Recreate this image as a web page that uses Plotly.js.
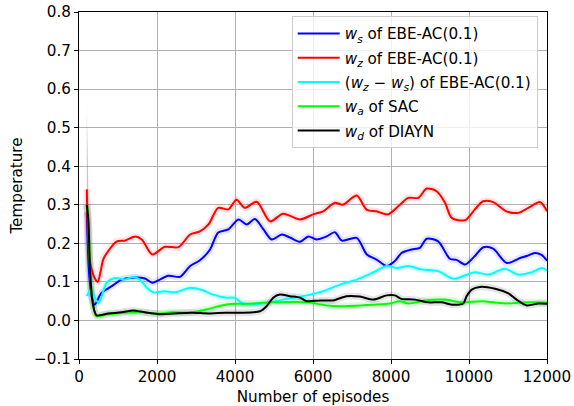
<!DOCTYPE html>
<html>
<head>
<meta charset="utf-8">
<script src="https://cdn.plot.ly/plotly-3.0.1.min.js"></script>
<style>html,body{margin:0;padding:0;background:#fff;}#chart{width:574px;height:406px;}</style>
</head>
<body>
<div id="chart"></div>
<script>
// ---- data ----
const xTicks = [0, 2000, 4000, 6000, 8000, 10000, 12000];
const yTicks = [-0.1, 0.0, 0.1, 0.2, 0.3, 0.4, 0.5, 0.6, 0.7, 0.8];

const blueX = [200, 260, 330, 400, 580, 840, 1090, 1350, 1690, 1880, 2290, 2590, 2850, 3100, 3360, 3570, 3830, 4090, 4300, 4510, 4730, 4940, 5200, 5410, 5670, 5880, 6090, 6350, 6560, 6740, 7120, 7380, 7630, 7890, 8100, 8270, 8530, 8740, 8915, 9210, 9510, 9680, 9900, 10150, 10370, 10620, 10970, 11310, 11480, 11690, 11860, 12000];
const blueY = [0.28, 0.12, 0.06, 0.041, 0.072, 0.089, 0.106, 0.111, 0.109, 0.098, 0.116, 0.113, 0.141, 0.156, 0.184, 0.228, 0.236, 0.262, 0.249, 0.263, 0.236, 0.21, 0.223, 0.215, 0.204, 0.218, 0.21, 0.218, 0.229, 0.207, 0.214, 0.171, 0.158, 0.141, 0.154, 0.175, 0.184, 0.188, 0.212, 0.205, 0.16, 0.157, 0.145, 0.167, 0.19, 0.186, 0.149, 0.162, 0.167, 0.175, 0.17, 0.155];

const redX = [200, 230, 270, 330, 400, 480, 560, 620, 750, 970, 1180, 1440, 1610, 1880, 2200, 2550, 2850, 3100, 3320, 3570, 3830, 4040, 4250, 4556, 4900, 5230, 5670, 6000, 6260, 6560, 6770, 7120, 7380, 7630, 7920, 8230, 8440, 8700, 8915, 9170, 9385, 9556, 9897, 10150, 10360, 10620, 10960, 11260, 11520, 11820, 12000];
const redY = [0.34, 0.22, 0.16, 0.13, 0.11, 0.10, 0.13, 0.158, 0.18, 0.205, 0.207, 0.218, 0.21, 0.171, 0.191, 0.19, 0.223, 0.231, 0.249, 0.292, 0.288, 0.313, 0.292, 0.308, 0.257, 0.277, 0.262, 0.275, 0.283, 0.305, 0.30, 0.324, 0.287, 0.283, 0.275, 0.30, 0.318, 0.318, 0.342, 0.335, 0.305, 0.266, 0.26, 0.288, 0.309, 0.307, 0.283, 0.279, 0.292, 0.307, 0.283];

const cyanX = [200, 300, 500, 710, 920, 1180, 1390, 1560, 1740, 1900, 2200, 2460, 2850, 3150, 3440, 3790, 4000, 4170, 4470, 4810, 5240, 5840, 6260, 6690, 7120, 7550, 7890, 8150, 8440, 8790, 9210, 9600, 9900, 10150, 10500, 10920, 11260, 11610, 11860, 12000];
const cyanY = [0.063, 0.078, 0.045, 0.098, 0.11, 0.106, 0.113, 0.106, 0.085, 0.073, 0.076, 0.073, 0.085, 0.079, 0.067, 0.059, 0.059, 0.046, 0.041, 0.046, 0.054, 0.065, 0.076, 0.093, 0.106, 0.125, 0.141, 0.136, 0.141, 0.132, 0.128, 0.108, 0.117, 0.125, 0.119, 0.134, 0.119, 0.125, 0.136, 0.13];

const greenX = [200, 240, 280, 340, 410, 450, 750, 1180, 1610, 2030, 2380, 2890, 3320, 3660, 4000, 4260, 4980, 5840, 6350, 6690, 7550, 7970, 8230, 8440, 8950, 9385, 9810, 10320, 10920, 11520, 12000];
const greenY = [0.30, 0.26, 0.14, 0.054, 0.018, 0.011, 0.016, 0.02, 0.021, 0.018, 0.021, 0.021, 0.03, 0.039, 0.043, 0.043, 0.047, 0.047, 0.039, 0.037, 0.041, 0.044, 0.05, 0.044, 0.053, 0.054, 0.047, 0.05, 0.044, 0.047, 0.046];

const blackX = [200, 240, 280, 340, 410, 450, 750, 1090, 1390, 1690, 2120, 2460, 2890, 3320, 3750, 4130, 4640, 4810, 4980, 5150, 5410, 5670, 5840, 6180, 6520, 6860, 7200, 7550, 7890, 8100, 8270, 8620, 8950, 9300, 9560, 9850, 9940, 10070, 10280, 10670, 11010, 11220, 11480, 11780, 12000];
const blackY = [0.30, 0.26, 0.14, 0.054, 0.02, 0.013, 0.018, 0.021, 0.026, 0.021, 0.016, 0.018, 0.02, 0.018, 0.02, 0.02, 0.024, 0.037, 0.059, 0.067, 0.063, 0.059, 0.05, 0.052, 0.052, 0.063, 0.062, 0.054, 0.065, 0.065, 0.056, 0.054, 0.047, 0.047, 0.041, 0.044, 0.063, 0.08, 0.087, 0.082, 0.07, 0.054, 0.039, 0.044, 0.043];

// initial spread (shaded band) at the first episodes
const spikeX = [200, 225, 260];
const redSpikeTop = [0.58, 0.40, 0.24];
const redSpikeLow = [0.34, 0.24, 0.17];
const greySpikeTop = [0.54, 0.36, 0.20];
const greySpikeLow = [0.30, 0.22, 0.14];

const names = [
  '<i>w<sub>s</sub></i> of EBE-AC(0.1)',
  '<i>w<sub>z</sub></i> of EBE-AC(0.1)',
  '(<i>w<sub>z</sub></i> \u2212 <i>w<sub>s</sub></i>) of EBE-AC(0.1)',
  '<i>w<sub>a</sub></i> of SAC',
  '<i>w<sub>d</sub></i> of DIAYN'
];

// ---- build traces ----
const series = [
  {x: blueX, y: blueY, c: '#0000ff', glow: 'rgba(0,0,255,0.10)'},
  {x: redX, y: redY, c: '#ff0000', glow: 'rgba(255,0,0,0.10)'},
  {x: cyanX, y: cyanY, c: '#00ffff', glow: 'rgba(0,255,255,0.12)'},
  {x: greenX, y: greenY, c: '#00ff00', glow: 'rgba(0,200,0,0.12)'},
  {x: blackX, y: blackY, c: '#000000', glow: 'rgba(0,0,0,0.10)'}
];

const traces = [];
const hidden = {width: 0, color: 'rgba(0,0,0,0)'};
traces.push({x: spikeX, y: redSpikeLow, mode: 'lines', line: hidden, showlegend: false, hoverinfo: 'skip'});
traces.push({x: spikeX, y: redSpikeTop, mode: 'lines', fill: 'tonexty', fillcolor: 'rgba(255,0,0,0.12)', line: hidden, showlegend: false, hoverinfo: 'skip'});
traces.push({x: spikeX, y: greySpikeLow, mode: 'lines', line: hidden, showlegend: false, hoverinfo: 'skip'});
traces.push({x: spikeX, y: greySpikeTop, mode: 'lines', fill: 'tonexty', fillcolor: 'rgba(110,110,110,0.30)', line: hidden, showlegend: false, hoverinfo: 'skip'});

series.forEach(s => {
  traces.push({x: s.x, y: s.y, mode: 'lines', line: {color: s.glow, width: 7, shape: 'spline', smoothing: 0.8}, showlegend: false, hoverinfo: 'skip'});
});
series.forEach((s, i) => {
  traces.push({x: s.x, y: s.y, mode: 'lines', name: names[i], legendgroup: 'g' + i,
    line: {color: s.c, width: 2, shape: 'spline', smoothing: 0.8}});
});

const font = {family: 'DejaVu Sans, sans-serif', size: 15.2, color: '#000'};
const axisCommon = {
  showline: true, mirror: true, linecolor: '#000', linewidth: 1,
  ticks: 'outside', ticklen: 4, tickwidth: 1, tickcolor: '#000',
  showgrid: true, gridcolor: '#b0b0b0', gridwidth: 1,
  zeroline: false, tickfont: font, automargin: false
};

const layout = {
  width: 574, height: 406,
  margin: {l: 79, r: 27, t: 12, b: 47},
  paper_bgcolor: '#fff', plot_bgcolor: '#fff',
  font: font,
  showlegend: true,
  legend: {
    x: 0.4545, y: 0.988, xanchor: 'left', yanchor: 'top',
    traceorder: 'grouped', tracegroupgap: 1.5, itemwidth: 42,
    bgcolor: 'rgba(255,255,255,0.8)', bordercolor: '#cccccc', borderwidth: 1,
    font: font
  },
  xaxis: Object.assign({}, axisCommon, {
    range: [0, 12000], tickvals: xTicks, ticktext: xTicks.map(String),
    title: {text: 'Number of episodes', font: font, standoff: 6}
  }),
  yaxis: Object.assign({}, axisCommon, {
    range: [-0.1, 0.8], tickvals: yTicks, ticktext: yTicks.map(v => (v < 0 ? '\u2212' : '') + Math.abs(v).toFixed(1)),
    title: {text: 'Temperature', font: font, standoff: 7}
  })
};

Plotly.newPlot('chart', traces, layout, {displayModeBar: false, staticPlot: true});
</script>
</body>
</html>
